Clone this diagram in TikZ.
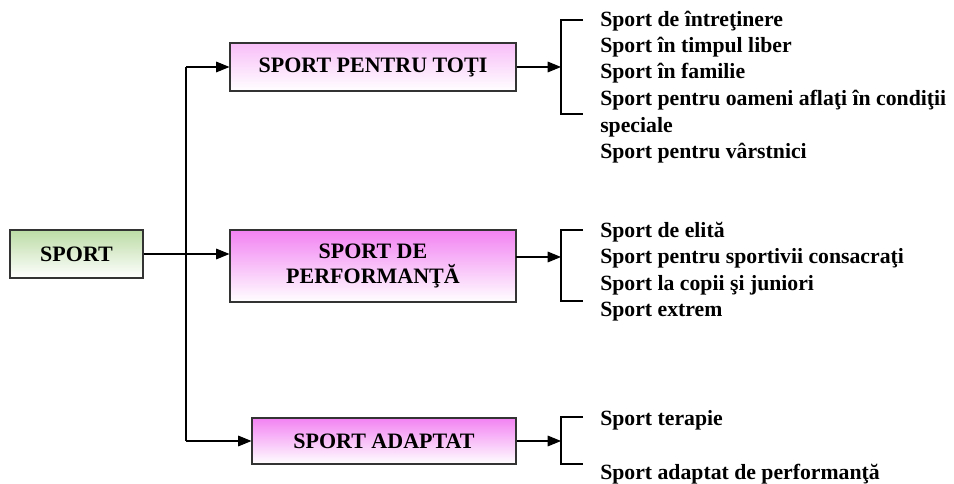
\documentclass[tikz,border=0pt]{standalone}
\usepackage{fontspec}
\setmainfont{Liberation Serif}
\usetikzlibrary{arrows.meta}
\definecolor{gtop}{RGB}{188,220,165}
\definecolor{ptop}{RGB}{242,130,242}
\definecolor{ptopl}{RGB}{248,190,248}
\begin{document}
\begin{tikzpicture}[x=0.75pt,y=-0.75pt,
  box/.style={draw=black!80, line width=0.8pt, inner sep=0pt, font=\bfseries\fontsize{16.5pt}{18pt}\selectfont, align=center},
  item/.style={anchor=west, inner sep=0pt, font=\bfseries\fontsize{16.3pt}{18pt}\selectfont},
  conn/.style={line width=0.8pt},
  arr/.style={conn, -{Triangle[length=10pt,width=8pt]}}]
\useasboundingbox (0,0) rectangle (954,484);
% boxes
\node[box, top color=gtop, bottom color=white, minimum width=133*0.75pt, minimum height=48*0.75pt] (sport) at (76.5,254) {SPORT};
\node[box, top color=ptopl, bottom color=white, minimum width=286*0.75pt, minimum height=48*0.75pt] (toti) at (373,67) {SPORT PENTRU TOŢI};
\node[box, top color=ptop, bottom color=white, minimum width=286*0.75pt, minimum height=72*0.75pt] (perf) at (373,266) {SPORT DE\\[1pt] PERFORMANŢĂ};
\node[box, top color=ptop, bottom color=white, minimum width=264*0.75pt, minimum height=46*0.75pt] (adapt) at (384,441) {SPORT ADAPTAT};
% trunk
\coordinate (t1) at (186,67);
\coordinate (t2) at (186,254);
\coordinate (t3) at (186,441);
\draw[conn] (sport.east) -- (t2);
\draw[arr] (t2) -- (perf.west |- t2);
\draw[arr] (t1) -- (toti.west);
\draw[arr] (t3) -- (adapt.west);
\draw[conn] (t1) -- (t3);
% brackets
\coordinate (b1t) at (561,20); \coordinate (b1b) at (561,114);
\coordinate (b2t) at (561,230); \coordinate (b2b) at (561,301);
\coordinate (b3t) at (561,417); \coordinate (b3b) at (561,464);
\draw[conn] (583,20) -- (b1t) -- (b1b) -- (583,114);
\draw[conn] (583,230) -- (b2t) -- (b2b) -- (583,301);
\draw[conn] (583,417) -- (b3t) -- (b3b) -- (583,464);
\draw[arr] (toti.east) -- (toti.east -| b1t);
\coordinate (p2) at (516,257);
\draw[arr] (p2) -- (p2 -| b2t);
\draw[arr] (adapt.east) -- (adapt.east -| b3t);
% items
\node[item] (a1) at (600,21) {Sport de întreţinere};
\node[item] (a2) at (600,47) {Sport în timpul liber};
\node[item] (a3) at (600,73) {Sport în familie};
\node[item] (a4) at (600,100) {Sport pentru oameni aflaţi în condiţii};
\node[item] (a5) at (600,127) {speciale};
\node[item] (a6) at (600,153) {Sport pentru vârstnici};
\node[item] (c1) at (600,232) {Sport de elită};
\node[item] (c2) at (600,258) {Sport pentru sportivii consacraţi};
\node[item] (c3) at (600,285) {Sport la copii şi juniori};
\node[item] (c4) at (600,312) {Sport extrem};
\node[item] (d1) at (600,420) {Sport terapie};
\node[item] (d2) at (600,474) {Sport adaptat de performanţă};
\end{tikzpicture}
\end{document}
